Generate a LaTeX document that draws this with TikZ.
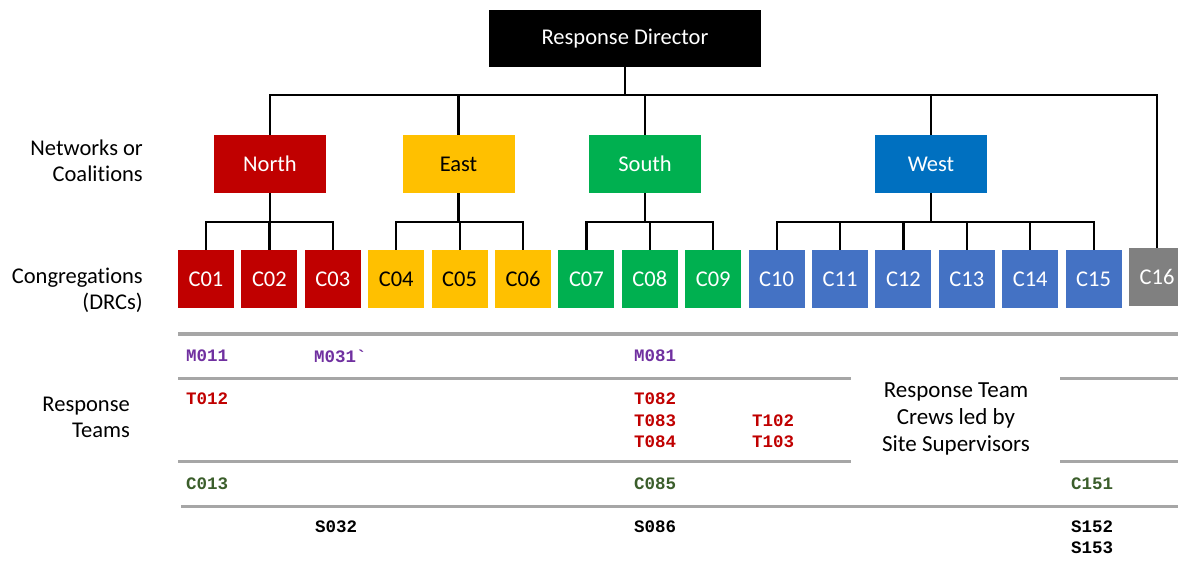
\documentclass[tikz,border=0pt]{standalone}
\usepackage{fontspec}
\setmainfont{Carlito}[Ligatures=CommonOff]
\setmonofont{Liberation Mono}
\usetikzlibrary{positioning}
\definecolor{rdred}{HTML}{C00000}
\definecolor{rdamber}{HTML}{FFC000}
\definecolor{rdgreen}{HTML}{00B050}
\definecolor{rdblue}{HTML}{0070C0}
\definecolor{rdcong}{HTML}{4472C4}
\definecolor{rdgrey}{HTML}{808080}
\definecolor{rdrule}{HTML}{A6A6A6}
\definecolor{rdpurple}{HTML}{7030A0}
\definecolor{rdolive}{HTML}{3B5E2B}
\tikzset{
  boss/.style ={rectangle, fill=black, text=white, inner sep=0pt,
                font=\fontsize{22.5}{26}\selectfont,
                minimum width=272pt, minimum height=57pt},
  net/.style  ={rectangle, text=white, inner sep=0pt,
                font=\fontsize{22.5}{26}\selectfont,
                minimum width=112pt, minimum height=58pt},
  cng/.style  ={rectangle, text=white, inner sep=0pt,
                font=\fontsize{22.5}{26}\selectfont,
                minimum width=56pt, minimum height=58pt},
  lnk/.style  ={draw=black, line width=2.2pt},
  sep/.style  ={draw=rdrule, line width=3pt},
  lvl/.style  ={align=right, anchor=east, inner sep=0pt,
                font=\fontsize{22.5}{26}\selectfont},
  code/.style ={anchor=west, inner sep=0pt,
                font=\ttfamily\bfseries\fontsize{17.5}{20}\selectfont}
}
\begin{document}
\begin{tikzpicture}[x=1pt, y={(0,-1pt)}, node distance=7pt and 7pt]
  \useasboundingbox (0,0) rectangle (1178,561);

  \node[boss] (rd) at (625,38.5) {Response Director};

  \node[net,fill=rdred]   (north) at (270,164)   {North};
  \node[net,fill=rdamber,text=black] (east) at (458.5,164) {East};
  \node[net,fill=rdgreen] (south) at (645,164)   {South};
  \node[net,fill=rdblue]  (west)  at (931,164)   {West};

  \node[cng,fill=rdred] (c01) at (206,279) {C01};
  \node[cng,fill=rdred,right=of c01] (c02) {C02};
  \node[cng,fill=rdred,right=of c02] (c03) {C03};
  \node[cng,fill=rdamber,text=black,right=of c03] (c04) {C04};
  \node[cng,fill=rdamber,text=black,right=of c04] (c05) {C05};
  \node[cng,fill=rdamber,text=black,right=of c05] (c06) {C06};
  \node[cng,fill=rdgreen,right=of c06] (c07) {C07};
  \node[cng,fill=rdgreen,right=of c07] (c08) {C08};
  \node[cng,fill=rdgreen,right=of c08] (c09) {C09};
  \node[cng,fill=rdcong,right=of c09] (c10) {C10};
  \node[cng,fill=rdcong,right=of c10] (c11) {C11};
  \node[cng,fill=rdcong,right=of c11] (c12) {C12};
  \node[cng,fill=rdcong,right=of c12] (c13) {C13};
  \node[cng,fill=rdcong,right=of c13] (c14) {C14};
  \node[cng,fill=rdcong,right=of c14] (c15) {C15};
  \node[cng,fill=rdgrey,right=of c15,yshift=2pt] (c16) {C16};

  \coordinate (bus) at (0,95);
  \coordinate (sub) at (0,222);
  \draw[lnk] (rd.south) -- (rd.south |- bus);
  \draw[lnk] (north.north) |- (bus -| c16.north) -- (c16.north);
  \draw[lnk] (east.north) -- (east.north |- bus);
  \draw[lnk] (south.north) -- (south.north |- bus);
  \draw[lnk] (west.north) -- (west.north |- bus);

  \draw[lnk] (north.south) -- (north.south |- sub);
  \draw[lnk] (c01.north) |- (sub -| c03.north) -- (c03.north);
  \draw[lnk] (c02.north) -- (c02.north |- sub);
  \draw[lnk] (east.south) -- (east.south |- sub);
  \draw[lnk] (c04.north) |- (sub -| c06.north) -- (c06.north);
  \draw[lnk] (c05.north) -- (c05.north |- sub);
  \draw[lnk] (south.south) -- (south.south |- sub);
  \draw[lnk] (c07.north) |- (sub -| c09.north) -- (c09.north);
  \draw[lnk] (c08.north) -- (c08.north |- sub);
  \draw[lnk] (west.south) -- (west.south |- sub);
  \draw[lnk] (c10.north) |- (sub -| c15.north) -- (c15.north);
  \foreach \c in {c11,c12,c13,c14}
    \draw[lnk] (\c.north) -- (\c.north |- sub);

  \node[lvl] (lnet)  at (143,161) {Networks or\\Coalitions};
  \node[lvl] (lcng)  at (143,290) {Congregations\\(DRCs)};
  \node[lvl] (lteam) at (130,417) {Response\\Teams};

  \coordinate (r0) at (178,334);
  \coordinate (r1) at (178,378);
  \coordinate (r2) at (178,461);
  \coordinate (r3) at (181,506);
  \draw[sep] (r0) -- (1178,334);
  \draw[sep] (r1) -- (851,378) (1060,378) -- (1178,378);
  \draw[sep] (r2) -- (851,461) (1060,461) -- (1178,461);
  \draw[sep] (r3) -- (1178,506);

  \node[align=center, font=\fontsize{23}{27}\selectfont] (crew) at (956,419)
    {Response Team\\Crews led by\\Site Supervisors};

  \node[code,text=rdpurple] (m011) at (186,356) {M011};
  \node[code,text=rdpurple] (m031) at (314,356) {M031`};
  \node[code,text=rdpurple] (m081) at (634,356) {M081};
  \node[code,text=rdred] (t012) at (186,399) {T012};
  \node[code,text=rdred] (t082) at (634,399) {T082};
  \node[code,text=rdred] (t083) at (634,420.5) {T083};
  \node[code,text=rdred] (t084) at (634,442) {T084};
  \node[code,text=rdred] (t102) at (752,420.5) {T102};
  \node[code,text=rdred] (t103) at (752,442) {T103};
  \node[code,text=rdolive] (c013) at (186,484) {C013};
  \node[code,text=rdolive] (c085) at (634,484) {C085};
  \node[code,text=rdolive] (c151) at (1071,484) {C151};
  \node[code] (s032) at (315,527) {S032};
  \node[code] (s086) at (634,527) {S086};
  \node[code] (s152) at (1071,527) {S152};
  \node[code] (s153) at (1071,548) {S153};
\end{tikzpicture}
\end{document}
